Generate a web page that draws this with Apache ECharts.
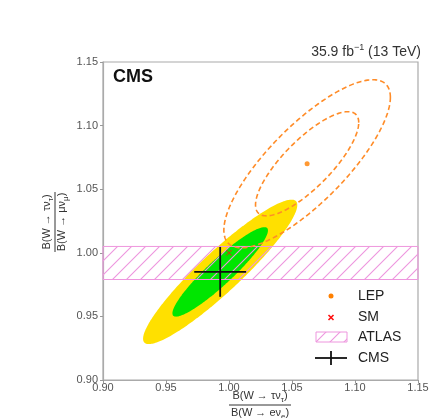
<!DOCTYPE html>
<html><head><meta charset="utf-8">
<script src="https://cdn.jsdelivr.net/npm/echarts@6/dist/echarts.min.js"></script>
<style>html,body{margin:0;padding:0;background:#fff}#c{width:441px;height:418px}</style>
</head><body><div id="c"></div>
<script>
// ---- data ----
const xRange = [0.90, 1.15];
const yRange = [0.90, 1.15];
const tickStep = 0.05;
const contourLevels = [2.30, 5.99];      // Δχ² for 68% / 95% CL (2 d.o.f.)
const cmsCenter = [0.993, 0.985];
const cmsSigma = [0.0250, 0.0232];
const cmsRho = 0.925;
const cmsCrossErr = [0.0206, 0.0196];
const lepCenter = [1.062, 1.070];
const lepSigma = [0.0270, 0.0270];
const lepRho = 0.79;
const smPoint = [1.000, 1.000];
const atlasBand = [0.979, 1.005];
const legendLabels = ['LEP', 'SM', 'ATLAS', 'CMS'];

const FONT = 'Liberation Sans, Arial, Helvetica, sans-serif';
const HATCH = '#ee96de';

function makeHatch() {
  const s = 14, c = document.createElement('canvas');
  c.width = s; c.height = s;
  const g = c.getContext('2d');
  g.strokeStyle = HATCH; g.lineWidth = 1.1;
  g.beginPath();
  g.moveTo(0, s); g.lineTo(s, 0);
  g.moveTo(-s/2, s/2); g.lineTo(s/2, -s/2);
  g.moveTo(s/2, s*1.5); g.lineTo(s*1.5, s/2);
  g.stroke();
  return {image: c, repeat: 'repeat'};
}
const hatchPattern = makeHatch();

function ellipseSeries(center, sigma, rho, level, style) {
  return {
    type: 'custom', coordinateSystem: 'cartesian2d', clip: true, silent: true,
    data: [[center[0], center[1], sigma[0], sigma[1], rho, level]],
    renderItem(params, api) {
      const cx = api.value(0), cy = api.value(1), sx = api.value(2), sy = api.value(3);
      const r = api.value(4), k = Math.sqrt(api.value(5)), q = Math.sqrt(1 - r * r);
      const pts = [];
      for (let i = 0; i < 240; i++) {
        const t = 2 * Math.PI * i / 240;
        pts.push(api.coord([cx + k * sx * Math.cos(t), cy + k * sy * (r * Math.cos(t) + q * Math.sin(t))]));
      }
      return {type: 'polygon', shape: {points: pts}, style: style};
    }
  };
}

const chart = echarts.init(document.getElementById('c'), null, {renderer: 'canvas'});

const richBase = {a: {fontSize: 11, lineHeight: 15, fill: '#333', fontFamily: FONT},
                  s: {fontSize: 8, verticalAlign: 'bottom', lineHeight: 15, fill: '#333', fontFamily: FONT}};

const dashStyle = {fill: 'none', stroke: '#ff8c28', lineWidth: 1.6, lineDash: [5, 3]};

const option = {
  animation: false,
  grid: {left: 103, right: 23, top: 62, bottom: 38, show: true, borderColor: '#aaa', borderWidth: 1.2},
  xAxis: {
    type: 'value', min: xRange[0], max: xRange[1], interval: tickStep,
    splitLine: {show: false},
    axisLine: {lineStyle: {color: '#aaa', width: 1.2}},
    axisTick: {length: 3, lineStyle: {color: '#999'}},
    axisLabel: {color: '#555', fontSize: 11, fontFamily: FONT, margin: 2, formatter: v => v.toFixed(2)}
  },
  yAxis: {
    type: 'value', min: yRange[0], max: yRange[1], interval: tickStep,
    splitLine: {show: false},
    axisLine: {lineStyle: {color: '#aaa', width: 1.2}},
    axisTick: {length: 3, lineStyle: {color: '#999'}},
    axisLabel: {color: '#555', fontSize: 11, fontFamily: FONT, margin: 5, formatter: v => v.toFixed(2)}
  },
  series: [
    ellipseSeries(cmsCenter, cmsSigma, cmsRho, contourLevels[1], {fill: '#ffe000', stroke: 'none'}),
    ellipseSeries(cmsCenter, cmsSigma, cmsRho, contourLevels[0], {fill: '#00e600', stroke: 'none'}),
    {
      type: 'custom', coordinateSystem: 'cartesian2d', silent: true,
      data: [[xRange[0], atlasBand[0], xRange[1], atlasBand[1]]],
      encode: {x: [0, 2], y: [1, 3]},
      renderItem(params, api) {
        const p1 = api.coord([api.value(0), api.value(3)]);
        const p2 = api.coord([api.value(2), api.value(1)]);
        return {type: 'rect', shape: {x: p1[0], y: p1[1], width: p2[0] - p1[0], height: p2[1] - p1[1]},
          style: {fill: hatchPattern, stroke: HATCH, lineWidth: 1}};
      }
    },
    ellipseSeries(lepCenter, lepSigma, lepRho, contourLevels[1], dashStyle),
    ellipseSeries(lepCenter, lepSigma, lepRho, contourLevels[0], dashStyle),
    {
      type: 'custom', coordinateSystem: 'cartesian2d', silent: true,
      data: [[cmsCenter[0], cmsCenter[1], cmsCrossErr[0], cmsCrossErr[1]]],
      renderItem(params, api) {
        const x = api.value(0), y = api.value(1), ex = api.value(2), ey = api.value(3);
        const l = api.coord([x - ex, y]), r = api.coord([x + ex, y]);
        const b = api.coord([x, y - ey]), t = api.coord([x, y + ey]);
        const st = {stroke: '#111', lineWidth: 1.8};
        return {type: 'group', children: [
          {type: 'line', shape: {x1: l[0], y1: l[1], x2: r[0], y2: r[1]}, style: st},
          {type: 'line', shape: {x1: b[0], y1: b[1], x2: t[0], y2: t[1]}, style: st}
        ]};
      }
    },
    {
      type: 'scatter', silent: true, data: [smPoint], symbolSize: 6,
      symbol: 'path://M0,1L1,0L5,4L9,0L10,1L6,5L10,9L9,10L5,6L1,10L0,9L4,5Z',
      itemStyle: {color: '#ff1010'}
    },
    {
      type: 'scatter', silent: true, data: [lepCenter], symbolSize: 5, symbol: 'circle',
      itemStyle: {color: '#ff8000'}
    }
  ],
  graphic: [
    {type: 'text', x: 421, y: 52, style: {
      text: '{a|35.9 fb}{p|−1}{a| (13 TeV)}', align: 'right', verticalAlign: 'middle',
      rich: {a: {fontSize: 14, lineHeight: 18, fill: '#333', fontFamily: FONT},
             p: {fontSize: 9, lineHeight: 18, verticalAlign: 'top', fill: '#333', fontFamily: FONT}}}},
    {type: 'text', x: 113, y: 77, style: {text: 'CMS', fontSize: 18, fontWeight: 'bold', fontFamily: FONT,
      fill: '#111', align: 'left', verticalAlign: 'middle'}},
    // y axis title (fraction)
    {type: 'group', x: 55, y: 222, rotation: Math.PI / 2, children: [
      {type: 'text', x: 0, y: -8, style: {text: '{a|B(W → τν}{s|τ}{a|)}', rich: richBase, align: 'center', verticalAlign: 'middle'}},
      {type: 'line', shape: {x1: -30, y1: 0, x2: 30, y2: 0}, style: {stroke: '#333', lineWidth: 1}},
      {type: 'text', x: 0, y: 7, style: {text: '{a|B(W → μν}{s|μ}{a|)}', rich: richBase, align: 'center', verticalAlign: 'middle'}}
    ]},
    // x axis title (fraction)
    {type: 'group', x: 260, y: 405, children: [
      {type: 'text', x: 0, y: -9, style: {text: '{a|B(W → τν}{s|τ}{a|)}', rich: richBase, align: 'center', verticalAlign: 'middle'}},
      {type: 'line', shape: {x1: -31, y1: 0, x2: 31, y2: 0}, style: {stroke: '#333', lineWidth: 1}},
      {type: 'text', x: 0, y: 8, style: {text: '{a|B(W → eν}{s|e}{a|)}', rich: richBase, align: 'center', verticalAlign: 'middle'}}
    ]},
    // legend
    {type: 'circle', shape: {cx: 331, cy: 296, r: 2.5}, style: {fill: '#ff8000'}},
    {type: 'line', shape: {x1: 328.5, y1: 315, x2: 333.5, y2: 320}, style: {stroke: '#ff1010', lineWidth: 1.6}},
    {type: 'line', shape: {x1: 333.5, y1: 315, x2: 328.5, y2: 320}, style: {stroke: '#ff1010', lineWidth: 1.6}},
    {type: 'rect', shape: {x: 316, y: 332, width: 31, height: 10}, style: {fill: hatchPattern, stroke: HATCH, lineWidth: 1}},
    {type: 'line', shape: {x1: 315, y1: 358, x2: 347, y2: 358}, style: {stroke: '#111', lineWidth: 1.8}},
    {type: 'line', shape: {x1: 331, y1: 351, x2: 331, y2: 365}, style: {stroke: '#111', lineWidth: 1.8}},
    ...legendLabels.map((t, i) => ({type: 'text', x: 358, y: [296, 317.5, 337, 358][i],
      style: {text: t, fontSize: 14, fontFamily: FONT, fill: '#222', align: 'left', verticalAlign: 'middle'}}))
  ]
};
chart.setOption(option);
</script></body></html>
